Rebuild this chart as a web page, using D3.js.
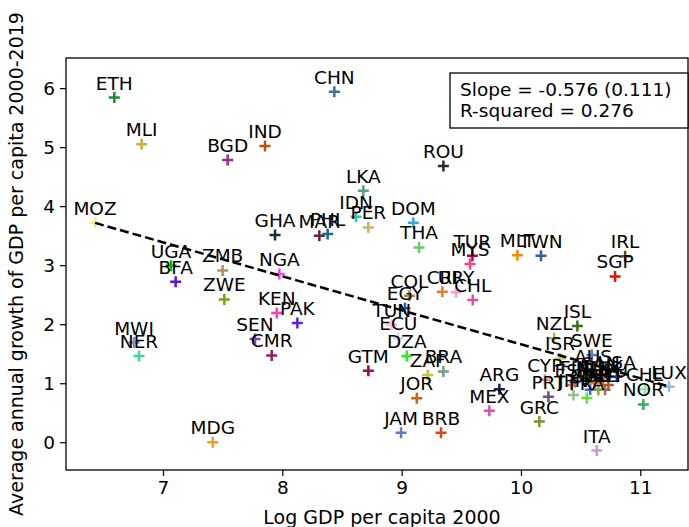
<!DOCTYPE html>
<html>
<head>
<meta charset="utf-8">
<script src="https://cdn.jsdelivr.net/npm/d3@7"></script>
<style>
  body { margin: 0; background: #fff; }
  svg text { font-family: "DejaVu Sans", sans-serif; }
</style>
</head>
<body>
<svg id="chart"></svg>
<script>
// country codes, log GDP per capita 2000, avg growth 2000-2019, marker colour
const codes = ["ETH","CHN","MLI","BGD","IND","MOZ","LKA","GHA","MAR","PHL","IDN","PER",
  "ROU","DOM","THA","TUR","MYS","MLT","TWN","IRL","SGP","UGA","BFA","ZMB","NGA","ZWE",
  "KEN","PAK","SEN","CMR","MWI","NER","GTM","MDG","COL","EGY","TUN","ECU","DZA","CRI",
  "URY","CHL","ISL","NZL","ISR","SWE","ARG","MEX","JAM","BRB","JOR","ZAF","BRA","GRC",
  "ITA","PRT","CYP","NOR","CHE","LUX","AUS","USA","CAN","FIN","DNK","NLD","GBR","AUT",
  "DEU","BEL","ESP","JPN","FRA"];
const logGdp = [6.592,8.436,6.821,7.542,7.855,6.43,8.679,7.939,8.31,8.38,8.618,8.721,
  9.35,9.098,9.146,9.593,9.573,9.97,10.168,10.873,10.789,7.067,7.106,7.50,7.975,7.514,
  7.953,8.126,7.771,7.911,6.757,6.799,8.721,7.417,9.065,9.028,8.917,8.972,9.043,9.341,
  9.456,9.596,10.473,10.278,10.328,10.594,9.819,9.735,8.995,9.330,9.127,9.219,9.35,10.154,
  10.635,10.23,10.20,11.026,11.04,11.241,10.605,10.803,10.663,10.453,10.688,10.62,10.58,10.705,
  10.733,10.649,10.426,10.44,10.552];
const growth = [5.84,5.94,5.05,4.78,5.02,3.72,4.26,3.51,3.50,3.53,3.82,3.64,
  4.68,3.72,3.30,3.16,3.02,3.17,3.16,3.15,2.81,2.99,2.72,2.91,2.85,2.42,
  2.19,2.02,1.75,1.47,1.69,1.46,1.21,0.00,2.48,2.27,1.99,1.76,1.46,2.55,
  2.54,2.41,1.97,1.76,1.42,1.48,0.90,0.535,0.16,0.16,0.745,1.14,1.20,0.35,
  -0.14,0.77,1.06,0.64,0.90,0.94,1.21,1.11,1.09,1.02,1.04,1.00,0.89,0.89,
  0.97,0.89,0.97,0.80,0.75];
const colors = ["#218a2c","#3f7396","#d4a63c","#9a2a8c","#b4520f","#f3ef7c","#5a9e88","#1c2a3a","#6b1f3c","#1a6c8c","#2cc4c0","#c8b46c",
  "#2a2a2a","#36acd6","#6cc86c","#a0103e","#f2448e","#f08c0c","#3a5a98","#6b4a12","#e01212","#12b012","#6212d0","#b08e62","#ff44e0","#7ea012",
  "#ff40b0","#6020e0","#7252c2","#902060","#6c94c4","#40d4a0","#901050","#f0a020","#a08c50","#2060a0","#f2c0e0","#d4d4f2","#22f022","#e08030",
  "#f2a2c2","#e050a0","#3a7010","#b4b450","#c4d440","#5878c8","#102050","#e050b0","#6a78c0","#e04410","#d06010","#c4c430","#70a080","#809030",
  "#d894d4","#705080","#e09080","#30b060","#a0e0a0","#90b8f0","#4a6ab0","#203080","#c86040","#8050a0","#c06838","#e07a30","#3a70c0","#a07060",
  "#b05830","#90a050","#d07050","#90c090","#60e030"];

const xTicks = [7, 8, 9, 10, 11];
const yTicks = [0, 1, 2, 3, 4, 5, 6];
const slope = -0.576, intercept = 7.42;
const fitRange = [6.43, 11.241];
const boxLines = ["Slope = -0.576 (0.111)", "R-squared = 0.276"];

const W = 689, H = 527;
const m = { left: 66, right: 1, top: 58, bottom: 57 };
const fs = "18.5px";
const titleFs = "19px";

const svg = d3.select("#chart").attr("width", W).attr("height", H);

const x = d3.scaleLinear().domain([6.187, 11.40]).range([m.left, W - m.right]);
const y = d3.scaleLinear().domain([-0.47, 6.51]).range([H - m.bottom, m.top]);

const pts = codes.map((c, i) => ({ code: c, x: logGdp[i], y: growth[i], color: colors[i] }));

// markers
const g = svg.append("g");
g.selectAll("path.pt")
  .data(pts)
  .enter().append("path")
  .attr("class", "pt")
  .attr("d", d => {
    const px = x(d.x), py = y(d.y), s = 5.5;
    return `M${px - s},${py}H${px + s}M${px},${py - s}V${py + s}`;
  })
  .attr("stroke", d => d.color)
  .attr("stroke-width", 2.5)
  .attr("fill", "none");

// labels
g.selectAll("text.lbl")
  .data(pts)
  .enter().append("text")
  .attr("class", "lbl")
  .attr("x", d => x(d.x))
  .attr("y", d => y(d.y) - 8)
  .attr("text-anchor", "middle")
  .style("font-size", fs)
  .style("fill", "#000")
  .text(d => d.code);

// fitted line
svg.append("line")
  .attr("x1", x(fitRange[0])).attr("y1", y(intercept + slope * fitRange[0]))
  .attr("x2", x(fitRange[1])).attr("y2", y(intercept + slope * fitRange[1]))
  .attr("stroke", "#000")
  .attr("stroke-width", 2.5)
  .attr("stroke-dasharray", "9,4");

// axes
const xAxis = svg.append("g")
  .attr("transform", `translate(0,${H - m.bottom})`)
  .call(d3.axisBottom(x).tickValues(xTicks).tickSize(6).tickPadding(5).tickFormat(d3.format("d")));
const yAxis = svg.append("g")
  .attr("transform", `translate(${m.left},0)`)
  .call(d3.axisLeft(y).tickValues(yTicks).tickSize(6).tickPadding(5).tickFormat(d3.format("d")));
[xAxis, yAxis].forEach(a => {
  a.select(".domain").remove();
  a.selectAll(".tick line").attr("stroke", "#000").attr("stroke-width", 1.2);
  a.selectAll(".tick text").style("font-size", fs).attr("fill", "#000")
    .style("font-family", "DejaVu Sans");
});

// frame
svg.append("rect")
  .attr("x", m.left).attr("y", m.top)
  .attr("width", W - m.right - m.left).attr("height", H - m.bottom - m.top)
  .attr("fill", "none").attr("stroke", "#000").attr("stroke-width", 1.3);

// axis titles
svg.append("text")
  .attr("x", 382).attr("y", 524)
  .attr("text-anchor", "middle").style("font-size", titleFs)
  .text("Log GDP per capita 2000");
svg.append("text")
  .attr("transform", `translate(23,${(m.top + H - m.bottom) / 2}) rotate(-90)`)
  .attr("text-anchor", "middle").style("font-size", titleFs)
  .text("Average annual growth of GDP per capita 2000-2019");

// stats box
svg.append("rect")
  .attr("x", 450).attr("y", 73).attr("width", 238).attr("height", 55)
  .attr("fill", "#fff").attr("stroke", "#000").attr("stroke-width", 1.3);
svg.selectAll("text.box")
  .data(boxLines)
  .enter().append("text")
  .attr("class", "box")
  .attr("x", 460).attr("y", (d, i) => 96 + i * 21)
  .style("font-size", fs)
  .text(d => d);
</script>
</body>
</html>
